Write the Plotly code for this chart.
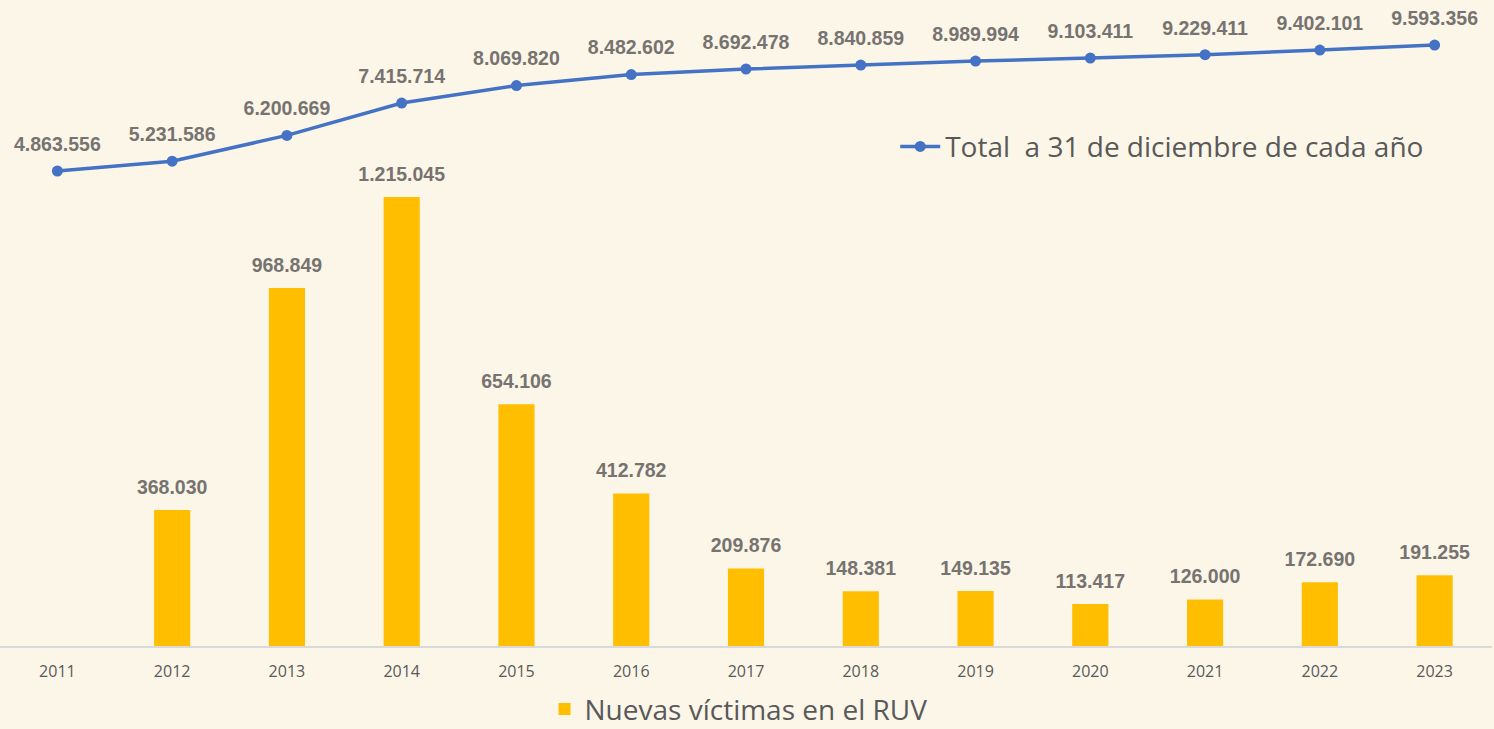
import plotly.graph_objects as go

years = ["2011", "2012", "2013", "2014", "2015", "2016", "2017", "2018", "2019", "2020", "2021", "2022", "2023"]
nuevas = [None, 368030, 968849, 1215045, 654106, 412782, 209876, 148381, 149135, 113417, 126000, 172690, 191255]
total = [4863556, 5231586, 6200669, 7415714, 8069820, 8482602, 8692478, 8840859, 8989994, 9103411, 9229411, 9402101, 9593356]

BG = "#FCF6E8"
BAR = "#FFBF00"
LINE = "#4472C4"
LBL = "#767370"
TICK = "#595959"


def fmt(v):
    return "" if v is None else "<b>" + f"{v:,}".replace(",", ".") + "</b>"


LFONT = dict(family="Liberation Sans", size=19.5, color=LBL)

fig = go.Figure()
fig.add_trace(go.Bar(
    x=years, y=nuevas, name="Nuevas víctimas en el RUV",
    marker=dict(color=BAR, line=dict(width=0)), width=0.315,
    legend="legend2",
))
fig.add_trace(go.Scatter(
    x=years, y=total, name="Total  a 31 de diciembre de cada año",
    mode="lines+markers", yaxis="y2",
    line=dict(color=LINE, width=3.5), marker=dict(color=LINE, size=11),
    legend="legend",
))
# data labels (invisible markers set the offset of the text)
fig.add_trace(go.Scatter(
    x=years, y=nuevas, text=[fmt(v) for v in nuevas], mode="markers+text",
    textposition="top center", textfont=LFONT, marker=dict(size=16.5, opacity=0),
    showlegend=False, hoverinfo="skip", cliponaxis=False,
))
fig.add_trace(go.Scatter(
    x=years, y=total, text=[fmt(v) for v in total], mode="markers+text", yaxis="y2",
    textposition="top center", textfont=LFONT, marker=dict(size=22.8, opacity=0),
    showlegend=False, hoverinfo="skip", cliponaxis=False,
))

fig.update_layout(
    width=1494, height=729,
    paper_bgcolor=BG, plot_bgcolor=BG,
    margin=dict(l=0, r=2, t=10, b=83, autoexpand=False),
    bargap=0.5,
    xaxis=dict(type="category", range=[-0.5, 12.5], showgrid=False, showline=True,
               linecolor="#D9D9D9", linewidth=1.5, ticks="", ticklabelstandoff=10,
               tickfont=dict(family="Open Sans", size=16, color=TICK), zeroline=False),
    yaxis=dict(range=[0, 1721245], visible=False, showgrid=False, zeroline=False),
    yaxis2=dict(range=[-12.97e6, 10.908e6], overlaying="y", visible=False, showgrid=False, zeroline=False),
    legend=dict(x=0.6, y=0.785, xanchor="left", yanchor="middle", bgcolor="rgba(0,0,0,0)",
                itemwidth=40, font=dict(family="Open Sans", size=28, color=TICK)),
    legend2=dict(x=0.495, y=0.027, yref="container", xanchor="center", yanchor="middle",
                 bgcolor="rgba(0,0,0,0)", font=dict(family="Open Sans", size=28, color=TICK)),
    showlegend=True,
)

fig.write_html("out.html", config={"displayModeBar": False},
               post_script="document.body.style.margin='0';document.body.style.padding='0';")
